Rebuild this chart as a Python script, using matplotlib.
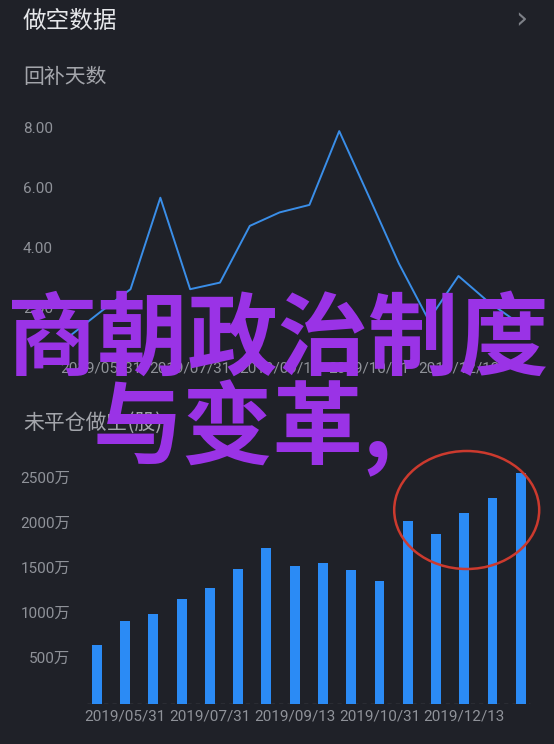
import matplotlib
matplotlib.use("Agg")
import matplotlib.pyplot as plt
from matplotlib.patches import Ellipse
from matplotlib.transforms import blended_transform_factory
import numpy as np

# 回补天数 (days to cover), one point per period
cover_days = [1.14, 1.92, 2.67, 5.72, 2.67, 2.89, 4.78, 5.23, 5.48, 7.94,
              5.75, 3.53, 1.64, 3.11, 2.25, 1.55]
# 未平仓做空 (short interest), in 万股
short_interest = [652, 919, 1000, 1170, 1285, 1496, 1730, 1537, 1570, 1489,
                  1370, 2037, 1885, 2119, 2285, 2563]
tick_dates = ["2019/05/31", "2019/07/31", "2019/09/13", "2019/10/31", "2019/12/13"]
line_yticks = [2.0, 4.0, 6.0, 8.0]
bar_yticks = [500, 1000, 1500, 2000, 2500]

W, H = 554, 744
BG = "#1f2128"
GREY = "#8f9299"
BLUE_LINE = "#3a8ee8"
BLUE_BAR = "#2b8bf5"
PURPLE = "#9a33e6"

plt.rcParams["font.family"] = ["Roboto", "Noto Sans CJK SC", "DejaVu Sans"]

fig = plt.figure(figsize=(W / 100, H / 100), dpi=100, facecolor=BG)


def fx(x):
    return x / W


def fy(y):
    return 1 - y / H


# headings
fig.text(fx(23), fy(21), "做空数据", color="#e6e7ea", fontsize=17,
         family=["Noto Sans CJK SC"], va="center", ha="left")
fig.text(fx(521), fy(20), "›", color="#7d8087", fontsize=22,
         family=["DejaVu Sans"], va="center", ha="center")
fig.text(fx(23), fy(77), "回补天数", color="#a3a5ab", fontsize=15,
         family=["Noto Sans CJK SC"], va="center", ha="left")
fig.text(fx(23), fy(423), "未平仓做空(股)", color="#a3a5ab", fontsize=15,
         family=["Noto Sans CJK SC"], va="center", ha="left")

# line chart
ax1 = fig.add_axes([fx(56), fy(357), (533 - 56) / W, (357 - 120) / H])
ax1.set_facecolor("none")
xs = np.arange(len(cover_days))
ax1.plot(xs, cover_days, color=BLUE_LINE, lw=1.4)
ax1.set_xlim(-0.5, len(cover_days) - 0.5)
ax1.set_ylim(0.41, 8.31)
ax1.set_xticks(xs[1::3])
ax1.set_xticklabels(tick_dates)
ax1.set_yticks([])
ax1.tick_params(axis="x", length=0, pad=3, colors=GREY, labelsize=11)
for s in ax1.spines.values():
    s.set_visible(False)
tr1 = blended_transform_factory(fig.transFigure, ax1.transData)
for v in line_yticks:
    ax1.text(fx(23), v, f"{v:.2f}", color=GREY, fontsize=11, va="center",
             ha="left", transform=tr1)

# bar chart
ax2 = fig.add_axes([fx(82.7), fy(704), 452.2 / W, (704 - 470) / H])
ax2.set_facecolor("none")
bx = np.arange(len(short_interest))
ax2.bar(bx, short_interest, width=0.35, color=BLUE_BAR, zorder=2)
ax2.axhline(0, xmin=0.01, xmax=0.99, color="#5a5d64", lw=1, ls=(0, (3, 3)), zorder=1)
ax2.set_xlim(-0.5, len(short_interest) - 0.5)
ax2.set_ylim(0, 2600)
ax2.set_xticks(bx[1::3])
ax2.set_xticklabels(tick_dates)
ax2.set_yticks([])
ax2.tick_params(axis="x", length=0, pad=4, colors=GREY, labelsize=11)
for s in ax2.spines.values():
    s.set_visible(False)
tr2 = blended_transform_factory(fig.transFigure, ax2.transData)
for v in bar_yticks:
    ax2.text(fx(70), v, f"{v}万", color=GREY, fontsize=11, va="center",
             ha="right", transform=tr2)

# red circle
ell = Ellipse((fx(466.7), fy(510)), 145 / W, 118 / H, transform=fig.transFigure,
              fill=False, edgecolor="#cc3a2e", lw=1.8, zorder=5)
fig.add_artist(ell)

# purple overlay text
fig.text(fx(7), fy(341), "商朝政治制度", color=PURPLE, fontsize=65,
         family=["Noto Sans CJK SC"], weight="bold", va="center", ha="left", zorder=6)
fig.text(fx(93), fy(428), "与变革,", color=PURPLE, fontsize=65,
         family=["Noto Sans CJK SC"], weight="bold", va="center", ha="left", zorder=6)

fig.savefig("out.png", dpi=100, facecolor=BG)
